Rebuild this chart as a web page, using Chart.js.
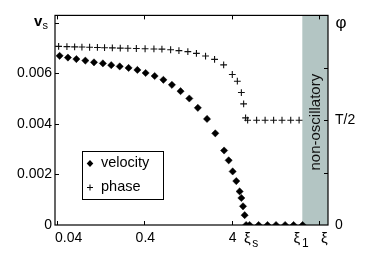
<!DOCTYPE html>
<html>
<head>
<meta charset="utf-8">
<script src="https://cdn.jsdelivr.net/npm/chart.js@4/dist/chart.umd.min.js"></script>
<style>
  html, body { margin: 0; padding: 0; background: #fff; }
  canvas { display: block; }
</style>
</head>
<body>
<canvas id="chart" width="374" height="257"></canvas>
<script>
// velocity (diamonds, left axis)
const velocityX = [0.0428, 0.0533, 0.0666, 0.0844, 0.106, 0.134, 0.167, 0.209, 0.264, 0.333,
  0.414, 0.525, 0.661, 0.828, 1.04, 1.31, 1.64, 2.09, 2.60, 3.28,
  3.70, 4.11, 4.52, 4.94, 5.17, 5.40, 5.64, 5.86, 6.43, 8.15,
  10.3, 12.9, 16.4, 20.5, 26.0]
const velocityY = [0.00670, 0.00663, 0.00657, 0.00651, 0.00644, 0.00640, 0.00633, 0.00628, 0.00622, 0.00614,
  0.00602, 0.00590, 0.00575, 0.00555, 0.00530, 0.00501, 0.00464, 0.00420, 0.00363, 0.00295,
  0.00256, 0.00212, 0.00174, 0.00133, 0.00107, 0.00074, 0.00039, 0, 0, 0,
  0, 0, 0, 0, 0]

// phase (crosses, right axis, in units of T)
const phaseX = [0.0417, 0.0519, 0.0636, 0.0771, 0.0944, 0.116, 0.140, 0.172, 0.212, 0.259,
  0.324, 0.408, 0.515, 0.636, 0.800, 0.996, 1.26, 1.58, 2.01, 2.55,
  3.24, 4.07, 4.65, 5.17, 5.49, 5.78, 6.10, 7.73, 9.67, 12.1,
  15.1, 19.0, 23.7]
const phaseY = [0.852, 0.851, 0.850, 0.849, 0.848, 0.847, 0.846, 0.845, 0.844, 0.843,
  0.842, 0.841, 0.840, 0.839, 0.836, 0.832, 0.827, 0.819, 0.806, 0.790,
  0.764, 0.718, 0.686, 0.632, 0.578, 0.511, 0.500, 0.500, 0.500, 0.500,
  0.500, 0.500, 0.500]

// axes
const xMin = 0.0379
const xMax = 50.8
const xTickValues = [0.04, 0.4, 4, 40]
const xTickLabels = ["0.04", "0.4", "4", ""]
const xMarkValues = [6.2, 23, 47.5]
const xMarkSubs = ["s", "1", ""]
const yTickValues = [0, 0.002, 0.004, 0.006, 0.008]
const yTickLabels = ["0", "0.002", "0.004", "0.006", ""]
const phaseTickValues = [0, 0.25, 0.5, 0.75]
const phaseTickLabels = ["0", "", "T/2", ""]
const bandStart = 25.8
const seriesNames = ["velocity", "phase"]

const FONT = "'Liberation Sans', Arial, sans-serif"
Chart.defaults.font.family = FONT
Chart.defaults.font.size = 14
Chart.defaults.color = "#000"

const decorations = {
  id: "decorations",
  beforeDatasetsDraw(chart) {
    const {ctx, chartArea: a, scales} = chart
    const bx = scales.x.getPixelForValue(bandStart)
    ctx.save()
    ctx.fillStyle = "#b3c5c3"
    ctx.fillRect(bx, a.top, a.right - bx, a.bottom - a.top)
    ctx.translate((bx + a.right) / 2 + 1, (a.top + a.bottom) / 2 + 2)
    ctx.rotate(-Math.PI / 2)
    ctx.fillStyle = "#111"
    ctx.font = "15px " + FONT
    ctx.textAlign = "center"
    ctx.textBaseline = "middle"
    ctx.fillText("non-oscillatory", 0, 0)
    ctx.restore()
  },
  afterDatasetsDraw(chart) {
    const {ctx, chartArea: a, scales} = chart
    const {x, y, y1} = scales
    ctx.save()
    // frame
    ctx.strokeStyle = "#000"
    ctx.lineWidth = 1.2
    ctx.strokeRect(a.left, a.top, a.right - a.left, a.bottom - a.top)
    // inward ticks
    ctx.lineWidth = 1
    ctx.beginPath()
    xTickValues.forEach(v => {
      const px = Math.round(x.getPixelForValue(v)) + 0.5
      ctx.moveTo(px, a.bottom); ctx.lineTo(px, a.bottom - 4)
      ctx.moveTo(px, a.top); ctx.lineTo(px, a.top + 4)
    })
    yTickValues.slice(1).forEach(v => {
      const py = Math.round(y.getPixelForValue(v)) + 0.5
      ctx.moveTo(a.left, py); ctx.lineTo(a.left + 4, py)
    })
    phaseTickValues.slice(1).forEach(v => {
      const py = Math.round(y1.getPixelForValue(v)) + 0.5
      ctx.moveTo(a.right, py); ctx.lineTo(a.right - 4, py)
    })
    ctx.stroke()

    // x tick labels
    ctx.fillStyle = "#000"
    ctx.font = "14px " + FONT
    ctx.textBaseline = "middle"
    const ly = a.bottom + 13
    xTickValues.forEach((v, i) => {
      if (!xTickLabels[i]) return
      const px = x.getPixelForValue(v)
      if (i === 0) {
        ctx.textAlign = "left"
        ctx.fillText(xTickLabels[i], px - 2, ly)
      } else {
        ctx.textAlign = "center"
        ctx.fillText(xTickLabels[i], px + 1, ly)
      }
    })
    // xi markers
    xMarkValues.forEach((v, i) => {
      const px = x.getPixelForValue(v)
      ctx.font = "15px " + FONT
      ctx.textAlign = "center"
      ctx.fillText("ξ", px - 1, ly + 1)
      if (xMarkSubs[i]) {
        ctx.font = "12px " + FONT
        ctx.textAlign = "left"
        ctx.fillText(xMarkSubs[i], px + 4, ly + 6)
      }
    })

    // axis titles
    const vy = y.getPixelForValue(0.008)
    ctx.font = "bold 15px " + FONT
    ctx.textAlign = "left"
    ctx.fillText("v", 34, vy - 1)
    ctx.font = "11px " + FONT
    ctx.fillText("s", 42.5, vy + 3)
    ctx.font = "17px " + FONT
    ctx.textAlign = "center"
    ctx.fillText("φ", 341, vy)

    // legend
    const lx = 82, ly0 = 151, lw = 81, lh = 48
    ctx.fillStyle = "#fff"
    ctx.fillRect(lx, ly0, lw, lh)
    ctx.strokeStyle = "#000"
    ctx.lineWidth = 1
    ctx.strokeRect(lx + 0.5, ly0 + 0.5, lw, lh)
    ctx.fillStyle = "#000"
    ctx.beginPath()
    ctx.moveTo(90, 163.5 - 3.6); ctx.lineTo(93.3, 163.5); ctx.lineTo(90, 163.5 + 3.6); ctx.lineTo(86.7, 163.5)
    ctx.closePath(); ctx.fill()
    ctx.beginPath()
    ctx.moveTo(87, 187.5); ctx.lineTo(93, 187.5)
    ctx.moveTo(90, 184.5); ctx.lineTo(90, 190.5)
    ctx.stroke()
    ctx.font = "14.5px " + FONT
    ctx.textAlign = "left"
    ctx.fillText(seriesNames[0], 101, 163)
    ctx.fillText(seriesNames[1], 101, 187)
    ctx.restore()
  }
}

new Chart(document.getElementById("chart").getContext("2d"), {
  type: "scatter",
  data: {
    datasets: [
      {
        label: seriesNames[0],
        data: velocityX.map((v, i) => ({x: v, y: velocityY[i]})),
        yAxisID: "y",
        pointStyle: "rectRot",
        pointRadius: 3.6,
        backgroundColor: "#000",
        borderColor: "#000",
        borderWidth: 0.5,
      },
      {
        label: seriesNames[1],
        data: phaseX.map((v, i) => ({x: v, y: phaseY[i]})),
        yAxisID: "y1",
        pointStyle: "cross",
        pointRadius: 3.4,
        borderColor: "#111",
        borderWidth: 1.1,
      },
    ],
  },
  options: {
    responsive: false,
    animation: false,
    events: [],
    layout: {padding: {top: 12}},
    plugins: {legend: {display: false}, tooltip: {enabled: false}},
    scales: {
      x: {
        type: "logarithmic",
        min: xMin,
        max: xMax,
        grid: {display: false, drawTicks: false},
        border: {display: false},
        ticks: {display: false},
        afterFit: s => { s.height = 32 },
      },
      y: {
        position: "left",
        min: 0,
        max: 0.0083,
        grid: {display: false, drawTicks: false},
        border: {display: false},
        afterBuildTicks: s => { s.ticks = yTickValues.map(v => ({value: v})) },
        ticks: {
          padding: 3,
          callback: v => yTickLabels[yTickValues.indexOf(v)] ?? "",
        },
        afterFit: s => { s.width = 55 },
      },
      y1: {
        position: "right",
        min: 0,
        max: 1,
        grid: {display: false, drawTicks: false},
        border: {display: false},
        afterBuildTicks: s => { s.ticks = phaseTickValues.map(v => ({value: v})) },
        ticks: {
          padding: 7,
          callback: v => phaseTickLabels[phaseTickValues.indexOf(v)] ?? "",
        },
        afterFit: s => { s.width = 46 },
      },
    },
  },
  plugins: [decorations],
})
</script>
</body>
</html>
